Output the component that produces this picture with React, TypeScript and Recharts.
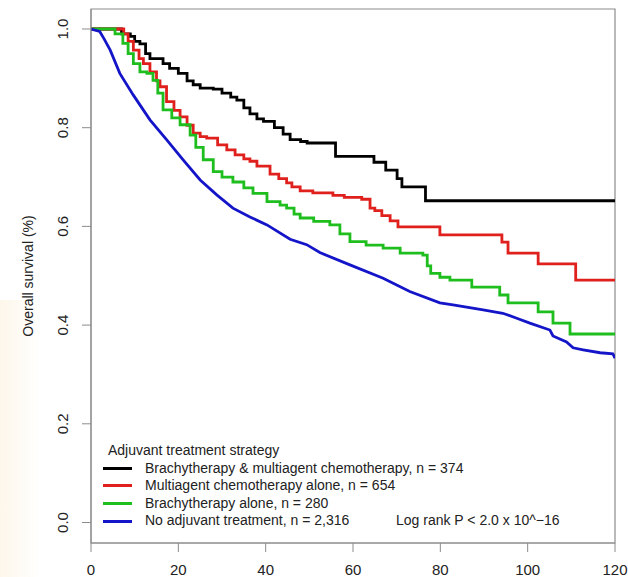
import React from 'react';
import { LineChart, Line, XAxis, YAxis, ReferenceArea, Legend } from 'recharts';

// Kaplan-Meier curves, months vs. survival probability
const blackPoints: [number, number][] = [
  [0, 1], [6, 1], [7, 0.99], [9, 0.985], [10, 0.975], [11.2, 0.97], [12.5, 0.95], [13.5, 0.94],
  [16.5, 0.93], [18, 0.92], [20, 0.91], [22, 0.895], [23.4, 0.887], [25, 0.88], [28, 0.878],
  [30, 0.87], [32, 0.862], [33.4, 0.856], [35, 0.84], [36.4, 0.828], [38, 0.818], [39.5, 0.813],
  [42, 0.8], [44, 0.787], [45.6, 0.776], [48, 0.772], [49.5, 0.769], [56, 0.742], [64.8, 0.73],
  [67.5, 0.714], [70.1, 0.697], [71.2, 0.68], [76.6, 0.652], [120, 0.652],
];

const redPoints: [number, number][] = [
  [0, 1], [6.5, 1], [7.5, 0.99], [8.5, 0.975], [9.7, 0.957], [11, 0.94], [12, 0.93], [13.5, 0.913],
  [15, 0.895], [15.8, 0.883], [17.3, 0.853], [19, 0.835], [20.4, 0.822], [22, 0.805], [23.4, 0.789],
  [25, 0.782], [26.5, 0.779], [29, 0.765], [31.1, 0.755], [33, 0.745], [35, 0.737], [36.4, 0.732],
  [38, 0.722], [41, 0.706], [43, 0.697], [44.8, 0.688], [46, 0.68], [47.9, 0.672], [50.8, 0.668],
  [55.4, 0.663], [58, 0.659], [62, 0.655], [63.9, 0.637], [65, 0.632], [66.6, 0.622], [68.5, 0.611],
  [70.3, 0.599], [79.9, 0.583], [94.1, 0.568], [95.5, 0.546], [102.4, 0.524], [111, 0.491], [120, 0.491],
];

const greenPoints: [number, number][] = [
  [0, 1], [4, 1], [5.5, 0.99], [7.3, 0.971], [8.5, 0.95], [9.7, 0.93], [11.2, 0.913], [12.8, 0.91],
  [14.2, 0.896], [15.3, 0.87], [16.5, 0.836], [18.5, 0.82], [20.4, 0.806], [22.7, 0.785], [24, 0.76],
  [25.7, 0.735], [28, 0.711], [30, 0.7], [32.5, 0.69], [35, 0.678], [37.1, 0.667], [40.3, 0.65],
  [43.3, 0.643], [44.8, 0.637], [46.5, 0.625], [47.9, 0.617], [51, 0.61], [54.7, 0.603], [57, 0.585],
  [59.3, 0.569], [63, 0.562], [66.9, 0.556], [70.8, 0.546], [76, 0.542], [77, 0.52], [77.8, 0.505],
  [79.9, 0.497], [82.2, 0.491], [87.2, 0.477], [93.6, 0.461], [95.5, 0.445], [102.4, 0.427],
  [105.8, 0.404], [109.7, 0.382], [120, 0.382],
];

const bluePoints: [number, number][] = [
  [0, 1], [2, 0.995], [3, 0.98], [4.4, 0.957], [6.6, 0.91], [9.7, 0.866], [13.5, 0.816],
  [17.3, 0.776], [21.1, 0.735], [25, 0.694], [28.8, 0.664], [32.5, 0.637], [36.4, 0.619],
  [40.3, 0.603], [45.6, 0.574], [49.4, 0.563], [52.4, 0.547], [59.3, 0.522], [66.9, 0.495],
  [73, 0.468], [79.9, 0.445], [82.9, 0.441], [89.8, 0.431], [94.3, 0.424], [97.5, 0.414],
  [100.5, 0.404], [105.1, 0.39], [105.8, 0.378], [108.9, 0.366], [110.4, 0.354], [112.7, 0.35],
  [116.6, 0.344], [119.5, 0.342], [120, 0.333],
];

const seriesNames = [
  'Brachytherapy & multiagent chemotherapy, n = 374',
  'Multiagent chemotherapy alone, n = 654',
  'Brachytherapy alone, n = 280',
  'No adjuvant treatment, n = 2,316',
];
const seriesColors = ['#000000', '#e0201c', '#1ebe1e', '#1414c8'];
const seriesPoints = [blackPoints, redPoints, greenPoints, bluePoints];
const seriesCurve: ('stepAfter' | 'linear')[] = ['stepAfter', 'stepAfter', 'stepAfter', 'linear'];

const xTicks = [0, 20, 40, 60, 80, 100, 120];
const yTicks = [0, 0.2, 0.4, 0.6, 0.8, 1.0];
const Y_MIN = -0.0415;
const Y_MAX = 1.0405;

const FONT = '"Liberation Sans", Arial, Helvetica, sans-serif';
const AXIS_GRAY = '#8c8c8c';
const TEXT = '#222';

const toRows = (pts: [number, number][]) => pts.map(([t, s]) => ({ t, s }));

const YTick = (props: any) => {
  const { y, payload } = props;
  const cx = 63;
  return (
    <text
      x={cx}
      y={y}
      transform={`rotate(-90 ${cx} ${y})`}
      textAnchor="middle"
      dominantBaseline="central"
      fontSize={15}
      fontFamily={FONT}
      fill={TEXT}
    >
      {payload.value.toFixed(1)}
    </text>
  );
};

const YLabel = (props: any) => {
  const { viewBox } = props;
  const cy = viewBox.y + viewBox.height / 2;
  return (
    <text
      x={28}
      y={cy}
      transform={`rotate(-90 28 ${cy})`}
      textAnchor="middle"
      dominantBaseline="central"
      fontSize={14}
      fontFamily={FONT}
      fill={TEXT}
    >
      Overall survival (%)
    </text>
  );
};

const StrategyLegend = () => (
  <div style={{ fontFamily: FONT, fontSize: 14, color: TEXT, lineHeight: '17.6px', position: 'relative' }}>
    <div style={{ paddingLeft: 8 }}>Adjuvant treatment strategy</div>
    {seriesNames.map((name, i) => (
      <div key={name} style={{ display: 'flex', alignItems: 'center' }}>
        <span style={{ display: 'inline-block', width: 29, height: 3, background: seriesColors[i], marginLeft: 3, marginRight: 13 }} />
        <span>{name}</span>
      </div>
    ))}
    <div style={{ position: 'absolute', left: 296, top: 70.4 }}>Log rank P &lt; 2.0 x 10^−16</div>
  </div>
);

export default function App() {
  return (
    <div style={{ position: 'absolute', left: 0, top: 0, width: 628, height: 577, background: '#fff' }}>
      <div
        style={{
          position: 'absolute', left: 0, top: 300, width: 40, height: 277,
          background: 'linear-gradient(to right, rgba(252,240,218,0.55), rgba(255,255,255,0))',
        }}
      />
      <LineChart width={628} height={577} margin={{ top: 9, right: 13, bottom: 0, left: 0 }}>
        <XAxis
          type="number"
          dataKey="t"
          domain={[0, 120]}
          ticks={xTicks}
          allowDataOverflow
          height={34}
          tickSize={9}
          tickMargin={12}
          stroke={AXIS_GRAY}
          tick={{ fontSize: 15, fontFamily: FONT, fill: TEXT }}
        />
        <YAxis
          type="number"
          domain={[Y_MIN, Y_MAX]}
          ticks={yTicks}
          allowDataOverflow
          width={91}
          tickSize={9}
          stroke={AXIS_GRAY}
          tick={<YTick />}
          label={<YLabel />}
        />
        <ReferenceArea x1={0} x2={120} y1={Y_MIN} y2={Y_MAX} fill="none" stroke={AXIS_GRAY} strokeWidth={1.2} ifOverflow="visible" />
        {seriesPoints.map((pts, i) => (
          <Line
            key={seriesNames[i]}
            data={toRows(pts)}
            dataKey="s"
            name={seriesNames[i]}
            type={seriesCurve[i]}
            stroke={seriesColors[i]}
            strokeWidth={2.8}
            dot={false}
            activeDot={false}
            isAnimationActive={false}
          />
        ))}
        <Legend
          layout="vertical"
          align="center"
          verticalAlign="middle"
          content={() => <StrategyLegend />}
          wrapperStyle={{ position: 'absolute', left: 100, top: 442, width: 500, height: 100 }}
        />
      </LineChart>
    </div>
  );
}
